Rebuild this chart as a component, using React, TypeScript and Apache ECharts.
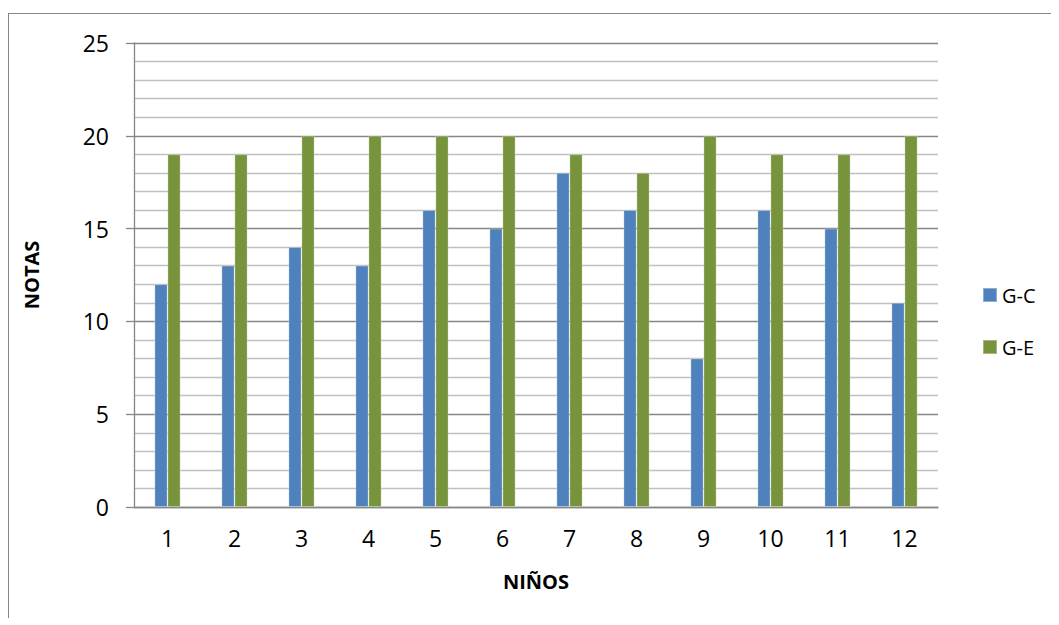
import React, { useEffect, useRef } from "react";
import * as echarts from "echarts";

const categories = ["1", "2", "3", "4", "5", "6", "7", "8", "9", "10", "11", "12"];
const seriesNames = ["G-C", "G-E"];
const gcValues = [12, 13, 14, 13, 16, 15, 18, 16, 8, 16, 15, 11];
const geValues = [19, 19, 20, 20, 20, 20, 19, 18, 20, 19, 19, 20];
const yMin = 0;
const yMax = 25;
const yInterval = 5;

const FONT = "'Open Sans', 'Liberation Sans', sans-serif";

export default function App() {
  const ref = useRef<HTMLDivElement>(null);
  useEffect(() => {
    if (!ref.current) return;
    const chart = echarts.init(ref.current, null, { renderer: "svg" });
    chart.setOption({
      animation: false,
      backgroundColor: "#ffffff",
      textStyle: { fontFamily: FONT },
      grid: { left: 125, top: 29, width: 804, height: 464, containLabel: false },
      legend: {
        orient: "vertical",
        left: 968,
        top: 266,
        itemWidth: 14,
        itemHeight: 14,
        itemGap: 32,
        icon: "rect",
        textStyle: { fontSize: 20, color: "#000", fontFamily: FONT },
        data: seriesNames,
      },
      xAxis: {
        type: "category",
        data: categories,
        name: "NIÑOS",
        nameLocation: "middle",
        nameGap: 64,
        nameTextStyle: { fontSize: 20, fontWeight: "bold", color: "#000", fontFamily: FONT },
        axisLine: { show: true, lineStyle: { color: "#868686", width: 1.3 } },
        axisTick: { show: false },
        axisLabel: { fontSize: 23, color: "#000", margin: 19, fontFamily: FONT },
        splitLine: { show: false },
      },
      yAxis: {
        type: "value",
        min: yMin,
        max: yMax,
        interval: yInterval,
        name: "NOTAS",
        nameLocation: "middle",
        nameGap: 93,
        nameRotate: 90,
        nameTextStyle: { fontSize: 20, fontWeight: "bold", color: "#000", fontFamily: FONT },
        axisLine: { show: true, lineStyle: { color: "#868686", width: 1.3 } },
        axisTick: { show: true, length: 8, inside: false, lineStyle: { color: "#868686", width: 1.3 } },
        minorTick: { show: false, splitNumber: 5 },
        axisLabel: { fontSize: 23, color: "#000", margin: 25, fontFamily: FONT },
        splitLine: { show: true, lineStyle: { color: "#868686", width: 1.3 } },
        minorSplitLine: { show: true, lineStyle: { color: "#C0C0C0", width: 1.3 } },
      },
      series: [
        {
          name: seriesNames[0],
          type: "bar",
          data: gcValues,
          barWidth: 13,
          barGap: "0%",
          itemStyle: { color: "#4F81BD", borderColor: "rgba(255,255,255,0.35)", borderWidth: 0.8 },
        },
        {
          name: seriesNames[1],
          type: "bar",
          data: geValues,
          barWidth: 13,
          barGap: "0%",
          itemStyle: { color: "#77933C", borderColor: "rgba(255,255,255,0.35)", borderWidth: 0.8 },
        },
      ],
    });
    return () => chart.dispose();
  }, []);
  return (
    <div style={{ paddingTop: 5 }}>
      <div style={{ borderLeft: "1px solid #868686", borderTop: "1px solid #868686", height: 604 }}>
        <div ref={ref} style={{ width: 1042, height: 604 }} />
      </div>
    </div>
  );
}
